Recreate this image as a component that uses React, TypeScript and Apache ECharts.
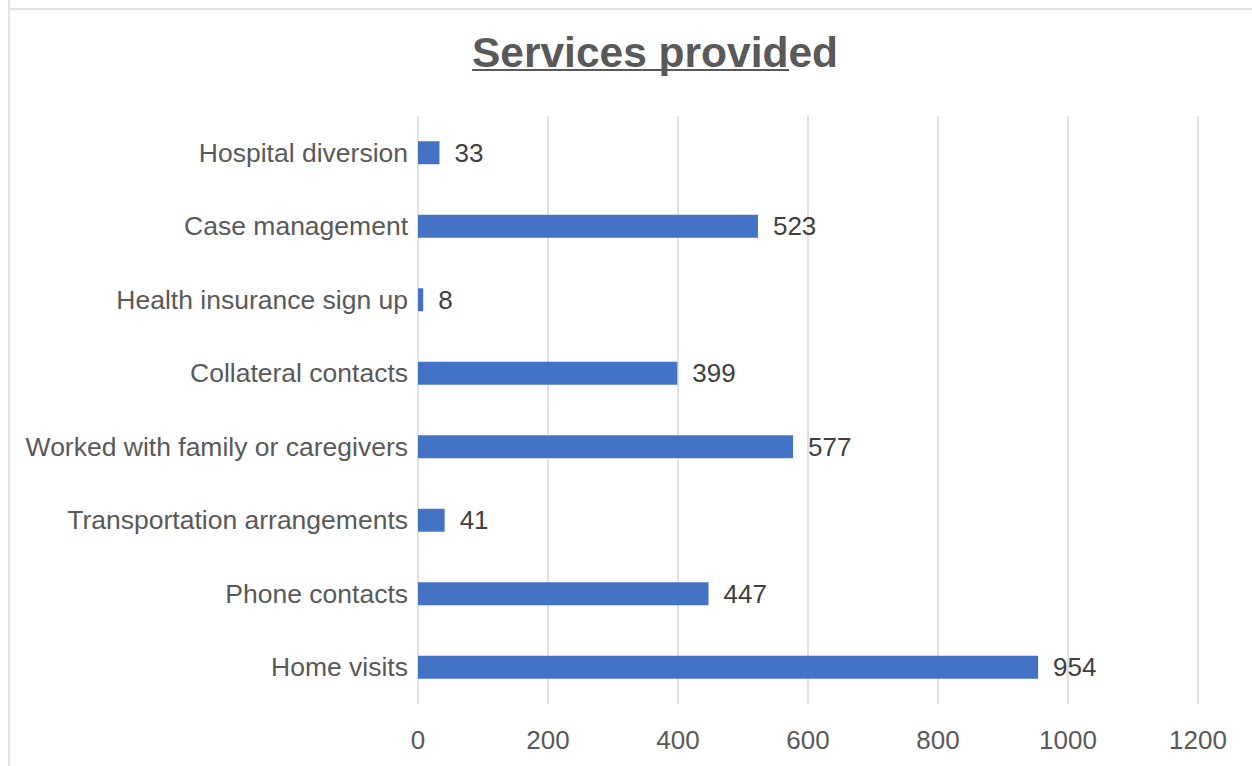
import React, { useEffect, useRef } from "react";
import * as echarts from "echarts";

const categories = [
  "Home visits",
  "Phone contacts",
  "Transportation arrangements",
  "Worked with family or caregivers",
  "Collateral contacts",
  "Health insurance sign up",
  "Case management",
  "Hospital diversion",
];
const values = [954, 447, 41, 577, 399, 8, 523, 33];
const xTicks = [0, 200, 400, 600, 800, 1000, 1200];

const FONT = "'Liberation Sans', Arial, Helvetica, sans-serif";

export default function App() {
  const ref = useRef<HTMLDivElement>(null);
  useEffect(() => {
    if (!ref.current) return;
    const chart = echarts.init(ref.current, null, { renderer: "svg" });
    chart.setOption({
      animation: false,
      backgroundColor: "#ffffff",
      title: {
        text: "Services provided",
        left: 650,
        textAlign: "center",
        top: 26,
        textStyle: {
          color: "#595959",
          fontSize: 42.5,
          fontWeight: "bold",
          fontFamily: FONT,
        },
      },
      graphic: [
        {
          type: "line",
          shape: { x1: 9, y1: 0, x2: 9, y2: 766 },
          style: { stroke: "#e3e3e3", lineWidth: 2 },
          silent: true,
        },
        {
          type: "line",
          shape: { x1: 8, y1: 9, x2: 1252, y2: 9 },
          style: { stroke: "#e3e3e3", lineWidth: 2 },
          silent: true,
        },
        {
          type: "line",
          shape: { x1: 472, y1: 70, x2: 789, y2: 70 },
          style: { stroke: "#595959", lineWidth: 2 },
          silent: true,
        },
      ],
      grid: { left: 418, right: 54, top: 116, bottom: 62, containLabel: false },
      xAxis: {
        type: "value",
        min: xTicks[0],
        max: xTicks[xTicks.length - 1],
        interval: 200,
        axisLine: { show: false },
        axisTick: { show: false },
        splitLine: { show: true, lineStyle: { color: "#d9d9d9", width: 1.5 } },
        axisLabel: {
          color: "#595959",
          fontSize: 26,
          fontFamily: FONT,
          margin: 23,
          formatter: (v: number) => String(v),
        },
      },
      yAxis: {
        type: "category",
        data: categories,
        axisLine: { show: false },
        axisTick: { show: false },
        axisLabel: {
          color: "#595959",
          fontSize: 26.5,
          fontFamily: FONT,
          margin: 10,
        },
      },
      series: [
        {
          type: "bar",
          data: values,
          barWidth: 23,
          itemStyle: { color: "#4472c4" },
          label: {
            show: true,
            position: "right",
            distance: 15,
            color: "#404040",
            fontSize: 26,
            fontFamily: FONT,
          },
        },
      ],
    });
    return () => chart.dispose();
  }, []);
  return (
    <div
      ref={ref}
      style={{ position: "fixed", left: 0, top: 0, width: 1252, height: 766 }}
    />
  );
}
